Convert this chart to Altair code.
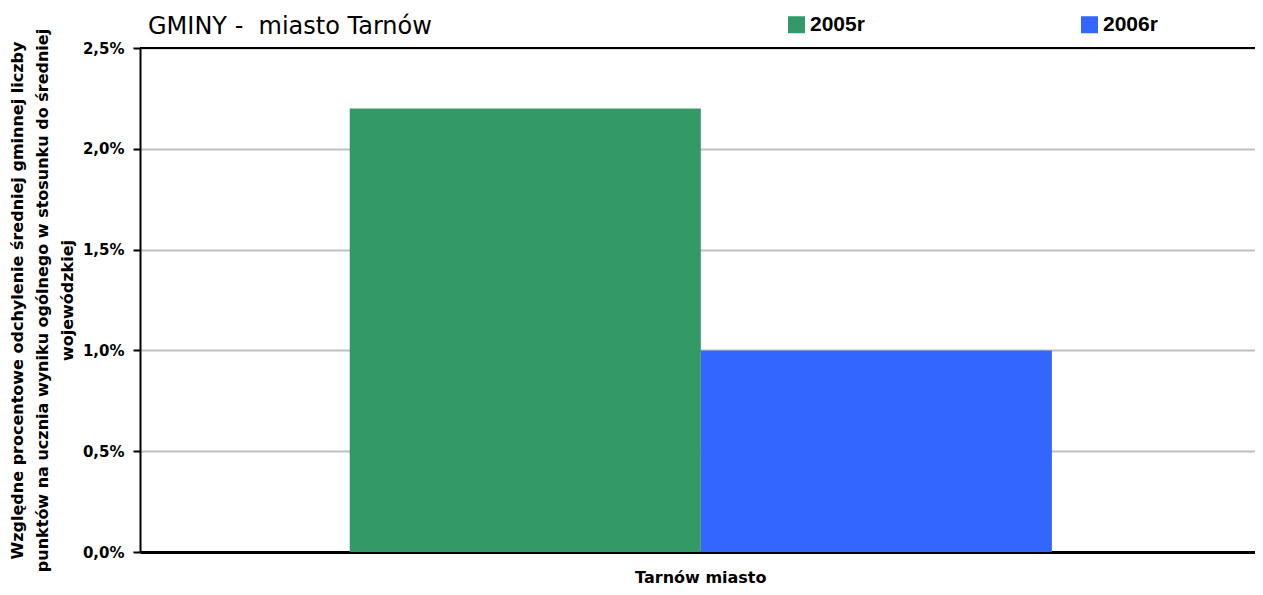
import altair as alt
import pandas as pd

category = ["Tarnów miasto", "Tarnów miasto"]
series = ["2005r", "2006r"]
values = [2.2, 1.0]
colors = ["#339966", "#3366FF"]
y_ticks = [0, 0.5, 1.0, 1.5, 2.0, 2.5]
y_title = [
    "Względne procentowe odchylenie średniej gminnej liczby",
    "punktów na ucznia wyniku ogólnego w stosunku do średniej",
    "wojewódzkiej",
]
chart_title = "GMINY -\u00a0 miasto Tarnów"

df = pd.DataFrame({"gmina": category, "rok": series, "wartosc": values})
top_df = pd.DataFrame({"y": [max(y_ticks)]})

FONT = "DejaVu Sans"
LFONT = "Liberation Sans"

y_enc = alt.Y(
    "wartosc:Q",
    scale=alt.Scale(domain=[0, 2.5], nice=False),
    axis=alt.Axis(
        values=y_ticks,
        labelExpr="replace(format(datum.value, '.1f'), '.', ',') + '%'",
        title=y_title,
        titleFont=FONT,
        titleFontSize=16,
        titleFontWeight="bold",
        titleLineHeight=25,
        titlePadding=7,
        titleColor="black",
        labelFont=FONT,
        labelFontSize=15,
        labelFontWeight="bold",
        labelColor="black",
        labelPadding=9,
        tickSize=7,
        tickWidth=2,
        tickColor="black",
        domainColor="black",
        domainWidth=2,
        grid=True,
        gridColor="#c0c0c0",
        gridWidth=2,
    ),
)

bars = alt.Chart(df).mark_bar().encode(
    x=alt.X(
        "gmina:N",
        scale=alt.Scale(paddingInner=0, paddingOuter=0.294, align=0.508),
        axis=alt.Axis(
            title=None,
            labelAngle=0,
            labelFont=FONT,
            labelFontSize=16,
            labelFontWeight="bold",
            labelColor="black",
            labelPadding=17,
            ticks=False,
            domainColor="black",
            domainWidth=3,
        ),
    ),
    xOffset=alt.XOffset("rok:N", scale=alt.Scale(paddingInner=0, paddingOuter=0)),
    y=y_enc,
    color=alt.Color(
        "rok:N",
        scale=alt.Scale(domain=series, range=colors),
        legend=alt.Legend(
            title=None,
            orient="none",
            legendX=646,
            legendY=-34,
            direction="horizontal",
            symbolType="square",
            symbolSize=289,
            symbolStrokeWidth=0,
            symbolOpacity=1,
            labelFont=LFONT,
            labelFontSize=21,
            labelFontWeight="bold",
            labelColor="black",
            labelOffset=3,
            columnPadding=214,
        ),
    ),
)

top_rule = alt.Chart(top_df).mark_rule(color="black", strokeWidth=2).encode(
    y=alt.Y("y:Q")
)

chart = (
    alt.layer(bars, top_rule)
    .properties(
        width=1115,
        height=504,
        title=alt.Title(
            chart_title,
            anchor="start",
            frame="group",
            font=FONT,
            fontSize=24,
            fontWeight="normal",
            color="black",
            baseline="alphabetic",
            dx=8,
            dy=54,
            offset=10,
        ),
        autosize=alt.AutoSizeParams(type="none"),
        padding={"left": 132, "top": 40, "right": 0, "bottom": 34},
    )
    .configure_view(stroke="#808080", strokeWidth=1)
    .configure(background="white")
)

chart.save("out.html", embed_options={"renderer": "svg", "actions": False})
